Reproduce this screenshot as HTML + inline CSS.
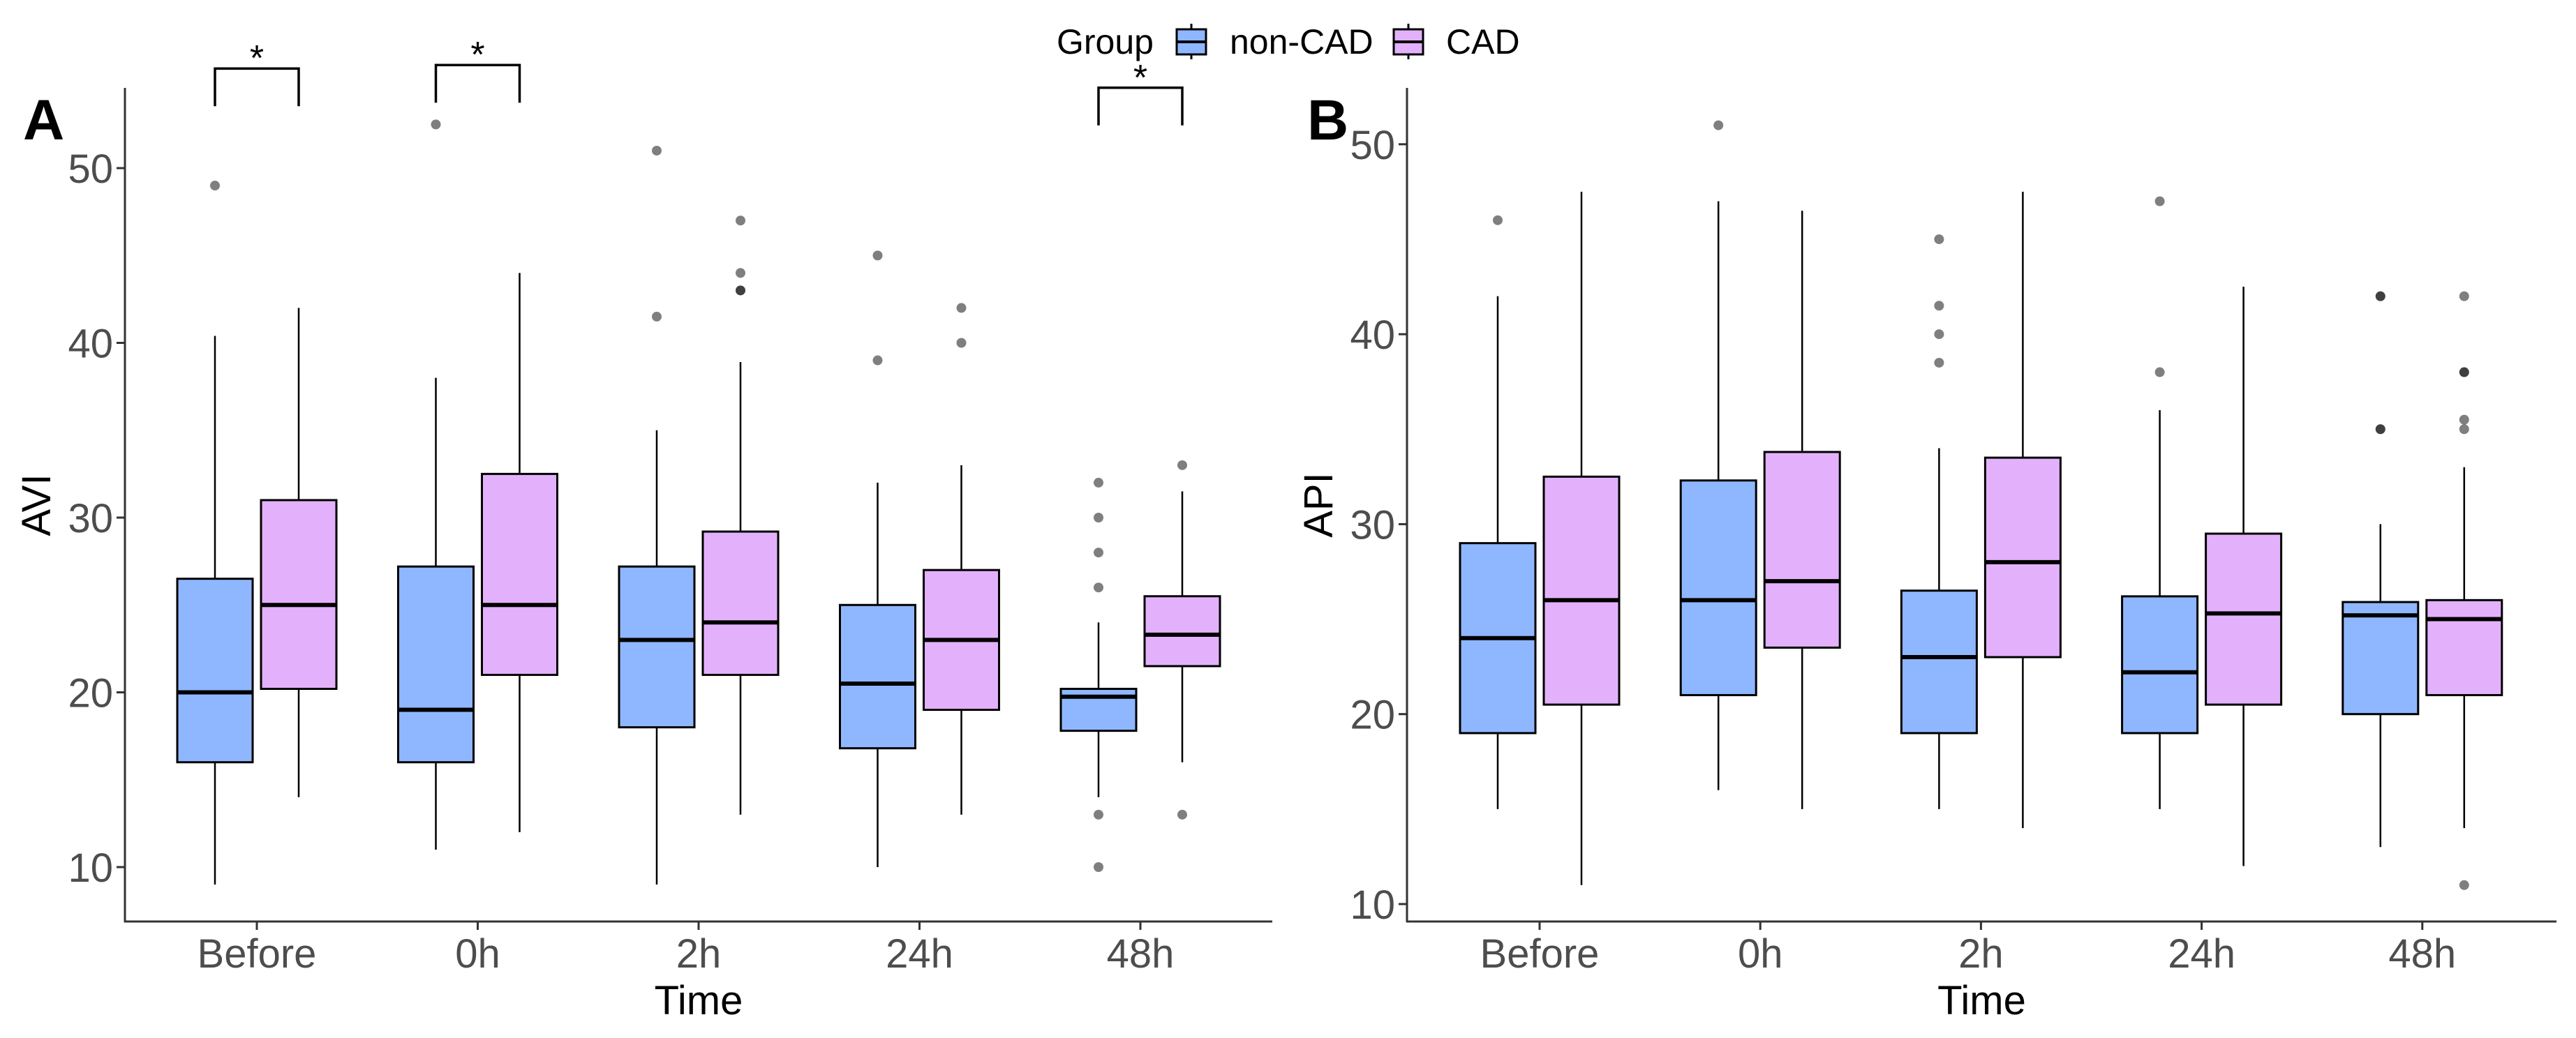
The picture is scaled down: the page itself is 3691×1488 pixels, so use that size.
<!DOCTYPE html>
<html><head><meta charset="utf-8"><style>
html,body{margin:0;padding:0;background:#fff;}
svg{display:block;font-family:"Liberation Sans",Arial,sans-serif;}
</style></head><body>
<svg id="chart" width="3691" height="1488" viewBox="0 0 3691 1488" xmlns="http://www.w3.org/2000/svg">
<g>
<text x="1514" y="77" font-size="50" fill="#000">Group</text>
<g>
<line x1="1707" y1="34" x2="1707" y2="85" stroke="#000" stroke-width="3"/>
<rect x="1686" y="42" width="42" height="36" fill="#8fb7ff" stroke="#000" stroke-width="3"/>
<line x1="1686" y1="60" x2="1728" y2="60" stroke="#000" stroke-width="4"/>
<text x="1762" y="77" font-size="50" fill="#000">non-CAD</text></g>
<g>
<line x1="2018" y1="34" x2="2018" y2="85" stroke="#000" stroke-width="3"/>
<rect x="1997" y="42" width="42" height="36" fill="#e3b1fb" stroke="#000" stroke-width="3"/>
<line x1="1997" y1="60" x2="2039" y2="60" stroke="#000" stroke-width="4"/>
<text x="2072" y="77" font-size="50" fill="#000">CAD</text></g>
</g>
<g id="pA"></g>
<g id="pB"></g>
</svg>
<script>
const categories = ["Before","0h","2h","24h","48h"];
const groups = ["non-CAD","CAD"];
// Panel A (AVI): [low, q1, median, q3, high] per category
const aviNonCAD = [[9,16,20,26.5,40.4],[11,16,19,27.2,38],[9,18,23,27.2,35],[10,16.8,20.5,25,32],[14,17.8,19.75,20.2,24]];
const aviCAD = [[14,20.2,25,31,42],[12,21,25,32.5,44],[13,21,24,29.2,38.9],[13,19,23,27,33],[16,21.5,23.3,25.5,31.5]];
const aviOutNonCAD = [[49],[52.5],[51,41.5],[45,39],[32,30,28,26,13,10]];
const aviOutCAD = [[],[],[47,44,43,43],[42,40],[33,13]];
const aviTicks = [10,20,30,40,50];
// Panel B (API)
const apiNonCAD = [[15,19,24,29,42],[16,21,26,32.3,47],[15,19,23,26.5,34],[15,19,22.2,26.2,36],[13,20,25.2,25.9,30]];
const apiCAD = [[11,20.5,26,32.5,47.5],[15,23.5,27,33.8,46.5],[14,23,28,33.5,47.5],[12,20.5,25.3,29.5,42.5],[14,21,25,26,33]];
const apiOutNonCAD = [[46],[51],[45,41.5,40,38.5],[47,38],[42,42,35,35]];
const apiOutCAD = [[],[],[],[],[42,38,38,35.5,35,11]];
const apiTicks = [10,20,30,40,50];
// significance brackets (category index) for panel A
const sigA = [0,1,4];
const sigATop = [55.7,55.9,54.6];

const NS="http://www.w3.org/2000/svg";
function mk(p,tag,at){const e=document.createElementNS(NS,tag);for(const k in at)e.setAttribute(k,at[k]);p.appendChild(e);return e;}
const fills=["#8fb7ff","#e3b1fb"];

function panel(g,cfg){
  const yv=v=>cfg.y10-(v-10)*cfg.ppu;
  const xc=i=>cfg.x0+i*cfg.step;
  // axes
  const ya=mk(g,'line',{x1:cfg.ax,y1:cfg.top,x2:cfg.ax,y2:1322,stroke:'#333',"stroke-width":3});
  
  
  const xa=mk(g,'line',{x1:cfg.ax-1,y1:1321,x2:cfg.right,y2:1321,stroke:'#333',"stroke-width":3});
  
  
  cfg.ticks.forEach(t=>{
    const y=yv(t);
    mk(g,'line',{x1:cfg.ax-12,y1:y,x2:cfg.ax,y2:y,stroke:'#333',"stroke-width":3});
    const tx=mk(g,'text',{x:cfg.ax-17,y:y+21,"text-anchor":"end","font-size":58,fill:'#4d4d4d'});
    tx.textContent=t;
    
    
  });
  categories.forEach((c,i)=>{
    const x=xc(i);
    mk(g,'line',{x1:x,y1:1321,x2:x,y2:1333,stroke:'#333',"stroke-width":3});
    const tx=mk(g,'text',{x:x,y:1387,"text-anchor":"middle","font-size":58,fill:'#4d4d4d'});
    tx.textContent=c;
    
    
  });
  const xt=mk(g,'text',{x:(cfg.ax+cfg.right)/2,y:1454,"text-anchor":"middle","font-size":58,fill:'#000'});
  xt.textContent='Time';
  
  
  const yt=mk(g,'text',{x:0,y:0,"text-anchor":"middle","font-size":58,fill:'#000',transform:`translate(${cfg.ytx},724) rotate(-90)`});
  yt.textContent=cfg.ylab;
  
  
  const lb=mk(g,'text',{x:cfg.lbx,y:200,"font-size":82,"font-weight":"bold",fill:'#000'});
  lb.textContent=cfg.label;
  
  
  [cfg.s0,cfg.s1].forEach((ser,gi)=>{
    const outs=gi?cfg.o1:cfg.o0;
    ser.forEach((d,i)=>{
      const cx=xc(i)+(gi?60:-60), w=108;
      const bg=mk(g,'g',{});
      
      
      mk(bg,'line',{x1:cx,y1:yv(d[0]),x2:cx,y2:yv(d[1]),stroke:'#000',"stroke-width":2.5});
      mk(bg,'line',{x1:cx,y1:yv(d[3]),x2:cx,y2:yv(d[4]),stroke:'#000',"stroke-width":2.5});
      mk(bg,'rect',{x:cx-w/2,y:yv(d[3]),width:w,height:yv(d[1])-yv(d[3]),fill:fills[gi],stroke:'#000',"stroke-width":3});
      mk(bg,'line',{x1:cx-w/2,y1:yv(d[2]),x2:cx+w/2,y2:yv(d[2]),stroke:'#000',"stroke-width":6});
      outs[i].forEach(o=>{
        const pt=mk(bg,'circle',{cx:cx,cy:yv(o),r:7,fill:'rgba(0,0,0,0.5)'});
        
        
      });
    });
  });
  (cfg.sig||[]).forEach((ci,k)=>{
    const x1=xc(ci)-60,x2=xc(ci)+60,yt2=yv(cfg.sigTop[k]),yb=yt2+54;
    const sg=mk(g,'path',{d:`M${x1},${yb}V${yt2}H${x2}V${yb}`,fill:'none',stroke:'#000',"stroke-width":3.5});
    
    
    const st=mk(g,'text',{x:(x1+x2)/2,y:yt2+3,"text-anchor":"middle","font-size":52,fill:'#000'});
    st.textContent='*';
    
    
  });
}
panel(document.getElementById('pA'),{ax:179,right:1823,top:126,y10:1243,ppu:25.05,x0:368,step:316.5,ticks:aviTicks,s0:aviNonCAD,s1:aviCAD,o0:aviOutNonCAD,o1:aviOutCAD,ylab:'AVI',ytx:72,label:'A',lbx:33,sig:sigA,sigTop:sigATop});
panel(document.getElementById('pB'),{ax:2016,right:3663,top:126,y10:1296,ppu:27.23,x0:2206,step:316.2,ticks:apiTicks,s0:apiNonCAD,s1:apiCAD,o0:apiOutNonCAD,o1:apiOutCAD,ylab:'API',ytx:1909,label:'B',lbx:1873});
</script>
</body></html>
